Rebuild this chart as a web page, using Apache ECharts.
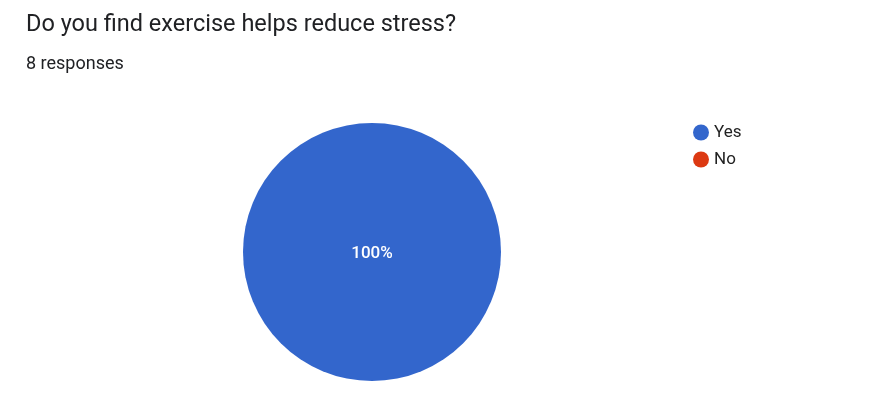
<!DOCTYPE html>
<html><head><meta charset="utf-8">
<script src="https://cdn.jsdelivr.net/npm/echarts@6/dist/echarts.min.js"></script>
<style>html,body{margin:0;padding:0;background:#fff}#c{width:871px;height:414px}</style>
</head><body><div id="c"></div>
<script>
const titleText = "Do you find exercise helps reduce stress?";
const subtitleText = "8 responses";
const categories = ["Yes", "No"];
const values = [8, 0];
const colors = ["#3366CC", "#DC3912"];

const chart = echarts.init(document.getElementById('c'), null, {renderer: 'canvas'});
chart.setOption({
  animation: false,
  backgroundColor: '#fff',
  title: {
    text: titleText,
    subtext: subtitleText,
    left: 21, top: 8,
    itemGap: 18,
    textStyle: {fontFamily: 'Roboto', fontSize: 23.5, fontWeight: 'normal', color: '#202124'},
    subtextStyle: {fontFamily: 'Roboto', fontSize: 18, color: '#202124'}
  },
  legend: {
    orient: 'vertical', left: 688, top: 119,
    icon: 'circle', itemWidth: 16, itemHeight: 16, itemGap: 10,
    textStyle: {fontFamily: 'Roboto', fontSize: 17, color: '#222'},
    data: categories
  },
  color: colors,
  series: [{
    type: 'pie',
    center: [372, 252],
    radius: 129,
    startAngle: 90,
    data: categories.map((c, i) => ({name: c, value: values[i]})),
    label: {
      position: 'center',
      color: '#fff', fontFamily: 'Roboto', fontSize: 17, fontWeight: 500,
      offset: [0, 2],
      formatter: p => p.value > 0 ? Math.round(p.percent) + '%' : ''
    },
    labelLine: {show: false},
    emphasis: {disabled: true},
    itemStyle: {borderWidth: 0}
  }]
});
</script></body></html>
